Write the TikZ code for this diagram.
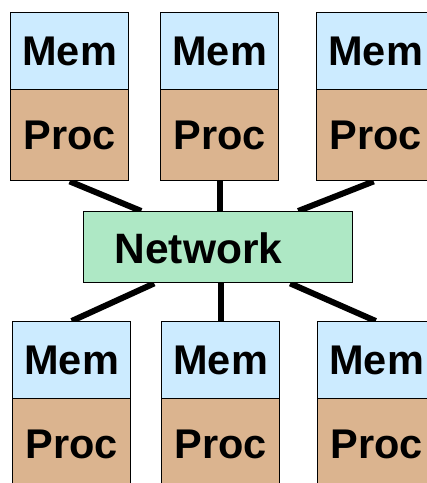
\documentclass[tikz,border=0pt]{standalone}
\usepackage{fontspec}
\setmainfont{Liberation Sans}
\usetikzlibrary{backgrounds}
\definecolor{memc}{HTML}{CCEBFF}
\definecolor{procc}{HTML}{DBB48F}
\definecolor{netc}{HTML}{AEE8C5}
\begin{document}
\begin{tikzpicture}[x=1pt,y=-1pt,
  box/.style={draw=black, line width=1.4pt, inner sep=0pt, anchor=north west,
    minimum width=118pt, text height=29.5pt, text depth=0pt,
    font=\fontsize{41.5}{41.5}\bfseries\selectfont},
  membox/.style={box, fill=memc, minimum height=77pt},
  procbox/.style={box, fill=procc, minimum height=91pt},
  netbox/.style={draw=black, line width=1.4pt, fill=netc, inner sep=0pt, anchor=north west,
    minimum width=269pt, minimum height=71pt},
  netlbl/.style={inner sep=0pt, text height=30pt, text depth=0pt,
    font=\fontsize{42.5}{42.5}\bfseries\selectfont},
  link/.style={line width=6pt, black}]
\useasboundingbox (0,0) rectangle (427,483);
% top row
\node[membox] (m1) at (10,12) {Mem};
\node[procbox] (p1) at (10,89) {Proc};
\node[membox] (m2) at (160,12) {Mem};
\node[procbox] (p2) at (160,89) {Proc};
\node[membox] (m3) at (316,12) {Mem};
\node[procbox] (p3) at (316,89) {Proc};
% network
\node[netbox] (net) at (83,211) {};
\node[netlbl] (netl) at (198.5,248) {Network};
% bottom row
\node[membox] (m4) at (12,321) {Mem};
\node[procbox] (p4) at (12,398) {Proc};
\node[membox] (m5) at (161,321) {Mem};
\node[procbox] (p5) at (161,398) {Proc};
\node[membox] (m6) at (317,321) {Mem};
\node[procbox] (p6) at (317,398) {Proc};
\begin{scope}[on background layer]
\draw[link] (p1.south) -- ([xshift=-77pt]net.north);
\draw[link] (p2.south) -- (p2.south |- net.north);
\draw[link] ([xshift=-2pt]p3.south) -- ([xshift=80pt]net.north);
\draw[link] (m4.north) -- ([xshift=-64pt]net.south);
\draw[link] (m5.north) -- (m5.north |- net.south);
\draw[link] ([xshift=-1pt]m6.north) -- ([xshift=72pt]net.south);
\end{scope}
\end{tikzpicture}
\end{document}
